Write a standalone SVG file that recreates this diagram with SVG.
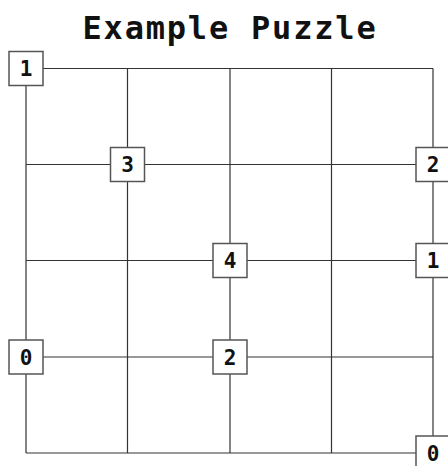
<svg xmlns="http://www.w3.org/2000/svg" width="448" height="466" viewBox="0 0 448 466">
<style>
.edge{stroke:#333;stroke-width:1.2;fill:none}
.box{fill:#fff;stroke:#555;stroke-width:1.5}
.lbl{font-family:"DejaVu Sans Mono","Liberation Mono",monospace;font-weight:bold;font-size:21px;fill:#111;text-anchor:middle}
.title{font-family:"DejaVu Sans Mono","Liberation Mono",monospace;font-weight:bold;font-size:32px;fill:#111;text-anchor:middle;letter-spacing:1.8px}
</style>
<rect width="448" height="466" fill="#fff"/>
<text class="title" x="230" y="39">Example Puzzle</text>
<g id="connectors">
<line class="edge" x1="26" y1="68.5" x2="433" y2="68.5"/>
<line class="edge" x1="26" y1="164.5" x2="433" y2="164.5"/>
<line class="edge" x1="26" y1="260.5" x2="433" y2="260.5"/>
<line class="edge" x1="26" y1="357" x2="433" y2="357"/>
<line class="edge" x1="26" y1="453" x2="433" y2="453"/>
<line class="edge" x1="26" y1="68.5" x2="26" y2="453"/>
<line class="edge" x1="127.5" y1="68.5" x2="127.5" y2="453"/>
<line class="edge" x1="230" y1="68.5" x2="230" y2="453"/>
<line class="edge" x1="331.5" y1="68.5" x2="331.5" y2="453"/>
<line class="edge" x1="433" y1="68.5" x2="433" y2="453"/>
</g>
<g id="n00"><rect class="box" x="9" y="51.5" width="34" height="34"/><text class="lbl" x="26" y="76">1</text></g>
<g id="n11"><rect class="box" x="110.5" y="147.5" width="34" height="34"/><text class="lbl" x="127.5" y="172">3</text></g>
<g id="n41"><rect class="box" x="416" y="147.5" width="34" height="34"/><text class="lbl" x="433" y="172">2</text></g>
<g id="n22"><rect class="box" x="213" y="243.5" width="34" height="34"/><text class="lbl" x="230" y="268">4</text></g>
<g id="n42"><rect class="box" x="416" y="243.5" width="34" height="34"/><text class="lbl" x="433" y="268">1</text></g>
<g id="n03"><rect class="box" x="9" y="340" width="34" height="34"/><text class="lbl" x="26" y="364.5">0</text></g>
<g id="n23"><rect class="box" x="213" y="340" width="34" height="34"/><text class="lbl" x="230" y="364.5">2</text></g>
<g id="n44"><rect class="box" x="416" y="436" width="34" height="34"/><text class="lbl" x="433" y="460.5">0</text></g>
</svg>
